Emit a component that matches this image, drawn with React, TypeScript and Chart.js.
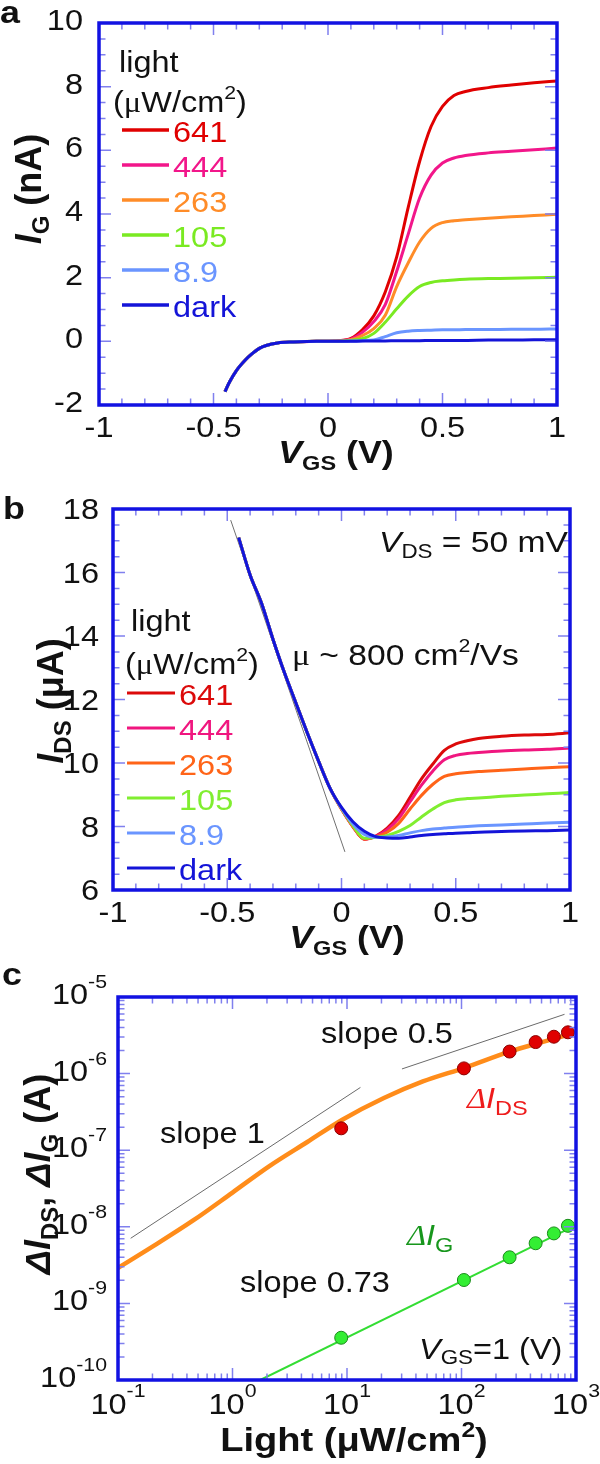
import React, { useEffect, useRef } from "react";
import { Chart, registerables } from "chart.js";

Chart.register(...registerables);

// ---------------- Panel a : I_G (nA) vs V_GS (V) ----------------
const vgsA = [-0.45, -0.43, -0.4, -0.36, -0.33, -0.3, -0.27, -0.22, -0.15, -0.05, 0.05, 0.1, 0.15, 0.2, 0.25, 0.3, 0.35, 0.4, 0.45, 0.5, 0.55, 0.6, 0.7, 0.8, 0.9, 1.0];
const igA641 = [-1.58, -1.28, -0.92, -0.58, -0.38, -0.22, -0.13, -0.05, -0.02, 0, 0.02, 0.09, 0.36, 0.8, 1.55, 2.65, 4.2, 5.65, 6.75, 7.38, 7.72, 7.85, 7.97, 8.05, 8.12, 8.18];
const igA444 = [-1.58, -1.28, -0.92, -0.58, -0.38, -0.22, -0.13, -0.05, -0.02, 0, 0.02, 0.07, 0.28, 0.62, 1.15, 2.2, 3.36, 4.5, 5.22, 5.6, 5.76, 5.84, 5.92, 5.97, 6.02, 6.07];
const igA263 = [-1.58, -1.28, -0.92, -0.58, -0.38, -0.22, -0.13, -0.05, -0.02, 0, 0.01, 0.05, 0.18, 0.4, 0.82, 1.72, 2.46, 3.12, 3.55, 3.73, 3.79, 3.82, 3.87, 3.91, 3.95, 3.99];
const igA105 = [-1.58, -1.28, -0.92, -0.58, -0.38, -0.22, -0.13, -0.05, -0.02, 0, 0, 0.03, 0.08, 0.25, 0.6, 1.02, 1.42, 1.72, 1.85, 1.9, 1.93, 1.95, 1.97, 1.98, 2.0, 2.01];
const igA89 = [-1.58, -1.28, -0.92, -0.58, -0.38, -0.22, -0.13, -0.05, -0.02, 0, 0, 0.01, 0.02, 0.04, 0.15, 0.27, 0.32, 0.34, 0.35, 0.36, 0.36, 0.37, 0.37, 0.38, 0.38, 0.39];
const igADark = [-1.58, -1.28, -0.92, -0.58, -0.38, -0.22, -0.13, -0.05, -0.02, 0, 0, 0, 0.01, 0.01, 0.01, 0.02, 0.02, 0.02, 0.03, 0.03, 0.03, 0.03, 0.04, 0.04, 0.05, 0.05];

// ---------------- Panel b : I_DS (uA) vs V_GS (V) ----------------
const vgsB = [-0.45, -0.4, -0.35, -0.3, -0.25, -0.2, -0.15, -0.1, -0.05, 0, 0.05, 0.1, 0.15, 0.2, 0.25, 0.3, 0.35, 0.4, 0.45, 0.5, 0.55, 0.6, 0.7, 0.8, 0.9, 1.0];
const idsB641 = [17.1, 15.92, 15.03, 13.9, 12.85, 11.9, 10.95, 10.05, 9.2, 8.55, 8.0, 7.6, 7.7, 7.95, 8.35, 8.92, 9.5, 9.97, 10.4, 10.6, 10.7, 10.77, 10.84, 10.88, 10.9, 10.95];
const idsB444 = [17.1, 15.92, 15.03, 13.9, 12.85, 11.9, 10.95, 10.05, 9.2, 8.55, 8.0, 7.6, 7.69, 7.9, 8.25, 8.78, 9.3, 9.75, 10.1, 10.24, 10.3, 10.33, 10.38, 10.41, 10.43, 10.47];
const idsB263 = [17.1, 15.92, 15.03, 13.9, 12.85, 11.9, 10.95, 10.05, 9.2, 8.55, 8.0, 7.6, 7.68, 7.82, 8.1, 8.55, 8.98, 9.33, 9.58, 9.66, 9.7, 9.73, 9.77, 9.81, 9.85, 9.88];
const idsB105 = [17.1, 15.92, 15.03, 13.9, 12.85, 11.9, 10.95, 10.05, 9.2, 8.57, 8.03, 7.63, 7.66, 7.72, 7.85, 8.03, 8.3, 8.55, 8.75, 8.84, 8.88, 8.9, 8.95, 8.99, 9.03, 9.07];
const idsB89 = [17.1, 15.92, 15.03, 13.9, 12.85, 11.9, 10.95, 10.05, 9.2, 8.58, 8.08, 7.75, 7.66, 7.67, 7.72, 7.8, 7.87, 7.92, 7.95, 7.98, 8.0, 8.02, 8.05, 8.08, 8.11, 8.13];
const idsBDark = [17.1, 15.92, 15.03, 13.9, 12.85, 11.9, 10.95, 10.05, 9.2, 8.6, 8.15, 7.85, 7.68, 7.64, 7.63, 7.67, 7.72, 7.75, 7.77, 7.79, 7.8, 7.82, 7.84, 7.86, 7.87, 7.89];
const mobilityFitV = [-0.485, 0.015];
const mobilityFitI = [17.65, 7.2];

// ---------------- Panel c : dI vs light ----------------
const lightLevels = [8.9, 105, 263, 444, 641, 850];
const deltaIds = [1.93e-7, 1.17e-6, 1.94e-6, 2.58e-6, 3.03e-6, 3.46e-6];
const deltaIg = [3.56e-10, 2.02e-9, 4.0e-9, 6.1e-9, 8.2e-9, 1.03e-8];
const fitLight = [0.1, 0.2, 0.45, 1.0, 2.1, 4.5, 9.1, 21, 46, 108, 263, 470, 850];
const fitIds = [2.9e-9, 5.5e-9, 1.2e-8, 2.8e-8, 6.2e-8, 1.28e-7, 2.5e-7, 4.8e-7, 7.9e-7, 1.2e-6, 1.93e-6, 2.5e-6, 3.2e-6];
const slope1Light = [0.129, 13.1];
const slope1I = [7.08e-9, 6.6e-7];
const slope05Light = [30.2, 794];
const slope05I = [1.15e-6, 5.94e-6];
const slope073Light = [1.75, 850];
const slope073I = [1e-10, 9.3e-9];

// ---------------- labels ----------------
const legendLabels = ["641", "444", "263", "105", "8.9", "dark"];
const xTickVals = [-1, -0.5, 0, 0.5, 1];
const xTickLabels = ["-1", "-0.5", "0", "0.5", "1"];
const yTickValsA = [-2, 0, 2, 4, 6, 8, 10];
const yTickLabelsA = ["-2", "0", "2", "4", "6", "8", "10"];
const yTickValsB = [6, 8, 10, 12, 14, 16, 18];
const yTickLabelsB = ["6", "8", "10", "12", "14", "16", "18"];
const decadesX = [-1, 0, 1, 2, 3];
const decadesY = [-10, -9, -8, -7, -6, -5];

// ---------------- styles ----------------
const W = 600;
const SX = 1.12;
const SANS = '"Liberation Sans", Arial, Helvetica, sans-serif';
const SERIF = '"Liberation Serif", "Times New Roman", serif';
const BORDER = "#1212e2";
const TICK = "#8080ee";
const colorsA = ["#e00000", "#f2168a", "#ff8c28", "#7aea22", "#6a95ff", "#1414d8"];
const colorsB = ["#dc0a0a", "#f0167f", "#ff6418", "#80ee30", "#6a95ff", "#1414d8"];

type Run = { t: string; size: number; bold?: boolean; italic?: boolean; serif?: boolean; dy?: number; color?: string };

function fontOf(r: Run) {
  return `${r.italic ? "italic " : ""}${r.bold ? "bold " : ""}${r.size}px ${r.serif ? SERIF : SANS}`;
}

function drawRich(ctx: CanvasRenderingContext2D, runs: Run[], x: number, y: number, align: "left" | "center" | "right", color: string, rotate = false) {
  ctx.save();
  ctx.translate(x, y);
  if (rotate) ctx.rotate(-Math.PI / 2);
  else ctx.scale(SX, 1);
  ctx.textBaseline = "alphabetic";
  ctx.textAlign = "left";
  let w = 0;
  for (const r of runs) {
    ctx.font = fontOf(r);
    w += ctx.measureText(r.t).width;
  }
  let cx = align === "center" ? -w / 2 : align === "right" ? -w : 0;
  for (const r of runs) {
    ctx.font = fontOf(r);
    ctx.fillStyle = r.color ?? color;
    ctx.fillText(r.t, cx, r.dy ?? 0);
    cx += ctx.measureText(r.t).width;
  }
  ctx.restore();
}

function drawFrame(chart: any, xt: { v: number; major: boolean }[], yt: { v: number; major: boolean }[]) {
  const { ctx, chartArea: a, scales } = chart;
  ctx.save();
  ctx.strokeStyle = TICK;
  ctx.lineWidth = 1.5;
  ctx.beginPath();
  for (const t of xt) {
    const p = scales.x.getPixelForValue(t.v);
    const L = t.major ? 12 : 6.5;
    ctx.moveTo(p, a.bottom);
    ctx.lineTo(p, a.bottom - L);
    ctx.moveTo(p, a.top);
    ctx.lineTo(p, a.top + L);
  }
  for (const t of yt) {
    const p = scales.y.getPixelForValue(t.v);
    const L = t.major ? 12 : 6.5;
    ctx.moveTo(a.left, p);
    ctx.lineTo(a.left + L, p);
    ctx.moveTo(a.right, p);
    ctx.lineTo(a.right - L, p);
  }
  ctx.stroke();
  ctx.strokeStyle = BORDER;
  ctx.lineWidth = 3.5;
  ctx.strokeRect(a.left, a.top, a.right - a.left, a.bottom - a.top);
  ctx.restore();
}

function linTicks(min: number, max: number, step: number, majors: number[]) {
  const out: { v: number; major: boolean }[] = [];
  const n = Math.round((max - min) / step);
  for (let i = 1; i < n; i++) {
    const v = +(min + i * step).toFixed(6);
    out.push({ v, major: majors.some((m) => Math.abs(m - v) < 1e-9) });
  }
  return out;
}

function logTicks(d0: number, d1: number) {
  const out: { v: number; major: boolean }[] = [];
  for (let d = d0; d < d1; d++) {
    if (d > d0) out.push({ v: Math.pow(10, d), major: true });
    for (let m = 2; m <= 9; m++) out.push({ v: m * Math.pow(10, d), major: false });
  }
  return out;
}

function drawLegend(ctx: CanvasRenderingContext2D, colors: string[], lx0: number, lx1: number, tx: number, lightX: number, lightY: number, unitX: number, unitY: number, firstY: number, lw: number) {
  drawRich(ctx, [{ t: "light", size: 29 }], lightX, lightY, "left", "#111");
  drawRich(ctx, [{ t: "(", size: 29 }, { t: "μ", size: 29, serif: true }, { t: "W/cm", size: 29 }, { t: "2", size: 19, dy: -13 }, { t: ")", size: 29 }], unitX, unitY, "left", "#111");
  legendLabels.forEach((lab, i) => {
    const by = firstY + 35 * i;
    ctx.save();
    ctx.strokeStyle = colors[i];
    ctx.lineWidth = lw;
    ctx.beginPath();
    ctx.moveTo(lx0, by - 12);
    ctx.lineTo(lx1, by - 12);
    ctx.stroke();
    ctx.restore();
    drawRich(ctx, [{ t: lab, size: 29 }], tx, by, "left", colors[i]);
  });
}

const pts = (xs: number[], ys: number[]) => xs.map((x, i) => ({ x, y: ys[i] }));

function lineDs(xs: number[], ys: number[], color: string, width: number, order: number) {
  return {
    data: pts(xs, ys),
    showLine: true,
    borderColor: color,
    backgroundColor: color,
    borderWidth: width,
    pointRadius: 0,
    cubicInterpolationMode: "monotone",
    order,
  };
}

const baseOptions = (padding: any, x: any, y: any) => ({
  animation: false,
  responsive: false,
  maintainAspectRatio: false,
  events: [],
  layout: { padding },
  plugins: { legend: { display: false }, tooltip: { enabled: false }, title: { display: false } },
  scales: { x: { ...x, display: false }, y: { ...y, display: false } },
});

// ---------------- panel a (canvas 0..488) ----------------
function makeA(canvas: HTMLCanvasElement) {
  const series = [igA641, igA444, igA263, igA105, igA89, igADark];
  const plugin = {
    id: "panelA",
    afterDraw(chart: any) {
      const { ctx, chartArea: a, scales } = chart;
      drawFrame(chart, linTicks(-1, 1, 0.1, [-0.5, 0, 0.5]), linTicks(-2, 10, 0.5, [0, 2, 4, 6, 8]));
      yTickValsA.forEach((v, i) => drawRich(ctx, [{ t: yTickLabelsA[i], size: 29 }], 83, scales.y.getPixelForValue(v) + 7, "right", "#111"));
      xTickVals.forEach((v, i) => drawRich(ctx, [{ t: xTickLabels[i], size: 29 }], scales.x.getPixelForValue(v), a.bottom + 32, "center", "#111"));
      drawRich(ctx, [{ t: "I", size: 36, bold: true, italic: true }, { t: "G", size: 24, bold: true, dy: 8 }, { t: " (nA)", size: 36, bold: true }], 41, 189, "center", "#111", true);
      drawRich(ctx, [{ t: "V", size: 32, bold: true, italic: true }, { t: "GS", size: 21, bold: true, dy: 7 }, { t: " (V)", size: 32, bold: true }], 336, 463, "center", "#111");
      drawRich(ctx, [{ t: "a", size: 32, bold: true }], 0, 23, "left", "#111");
      drawLegend(ctx, colorsA, 122, 169, 173, 119, 72, 113, 112, 142, 3.5);
    },
  };
  return new Chart(canvas, {
    type: "scatter",
    data: { datasets: series.map((s, i) => lineDs(vgsA, s, colorsA[i], 3, 5 - i)) as any },
    options: baseOptions({ left: 99, top: 23, right: 43, bottom: 83 }, { type: "linear", min: -1, max: 1 }, { type: "linear", min: -2, max: 10 }) as any,
    plugins: [plugin],
  });
}

// ---------------- panel b (canvas 488..960) ----------------
function makeB(canvas: HTMLCanvasElement) {
  const series = [idsB641, idsB444, idsB263, idsB105, idsB89, idsBDark];
  const plugin = {
    id: "panelB",
    afterDraw(chart: any) {
      const { ctx, chartArea: a, scales } = chart;
      drawFrame(chart, linTicks(-1, 1, 0.1, [-0.5, 0, 0.5]), linTicks(6, 18, 0.5, [8, 10, 12, 14, 16]));
      yTickValsB.forEach((v, i) => drawRich(ctx, [{ t: yTickLabelsB[i], size: 29 }], 99, scales.y.getPixelForValue(v) + 10, "right", "#111"));
      xTickVals.forEach((v, i) => drawRich(ctx, [{ t: xTickLabels[i], size: 29 }], scales.x.getPixelForValue(v), a.bottom + 32, "center", "#111"));
      drawRich(ctx, [{ t: "I", size: 36, bold: true, italic: true }, { t: "DS", size: 24, bold: true, dy: 8 }, { t: " (μA)", size: 36, bold: true }], 63, 213, "center", "#111", true);
      drawRich(ctx, [{ t: "V", size: 32, bold: true, italic: true }, { t: "GS", size: 21, bold: true, dy: 7 }, { t: " (V)", size: 32, bold: true }], 347, 460, "center", "#111");
      drawRich(ctx, [{ t: "b", size: 32, bold: true }], 3, 31, "left", "#111");
      drawRich(ctx, [{ t: "V", size: 30, italic: true }, { t: "DS", size: 20, dy: 6 }, { t: " = 50 mV", size: 30 }], 379, 64, "left", "#111");
      drawRich(ctx, [{ t: "μ", size: 30, serif: true }, { t: " ~ 800 cm", size: 30 }, { t: "2", size: 19, dy: -13 }, { t: "/Vs", size: 30 }], 292, 177, "left", "#111");
      drawLegend(ctx, colorsB, 127, 175, 179, 131, 143, 125, 186, 217, 3);
    },
  };
  const datasets: any[] = series.map((s, i) => lineDs(vgsB, s, colorsB[i], 3, 5 - i));
  datasets.push(lineDs(mobilityFitV, mobilityFitI, "#707070", 1, 6));
  return new Chart(canvas, {
    type: "scatter",
    data: { datasets },
    options: baseOptions({ left: 113, top: 21, right: 30, bottom: 70 }, { type: "linear", min: -1, max: 1 }, { type: "linear", min: 6, max: 18 }) as any,
    plugins: [plugin],
  });
}

// ---------------- panel c (canvas 960..1464) ----------------
function makeC(canvas: HTMLCanvasElement) {
  const plugin = {
    id: "panelC",
    afterDraw(chart: any) {
      const { ctx, chartArea: a, scales } = chart;
      drawFrame(chart, logTicks(-1, 3), logTicks(-10, -5));
      decadesY.forEach((d) => drawRich(ctx, [{ t: "10", size: 29 }, { t: String(d), size: 19, dy: -16 }], 107, scales.y.getPixelForValue(Math.pow(10, d)) + 7, "right", "#111"));
      decadesX.forEach((d) => drawRich(ctx, [{ t: "10", size: 29 }, { t: String(d), size: 19, dy: -17 }], scales.x.getPixelForValue(Math.pow(10, d)), a.bottom + 34, "center", "#111"));
      drawRich(ctx, [{ t: "Δ", size: 36, bold: true, italic: true }, { t: "I", size: 36, bold: true, italic: true }, { t: "DS", size: 24, bold: true, dy: 8 }, { t: ", ", size: 36, bold: true }, { t: "Δ", size: 36, bold: true, italic: true }, { t: "I", size: 36, bold: true, italic: true }, { t: "G", size: 24, bold: true, dy: 8 }, { t: " (A)", size: 36, bold: true }], 50, 214, "center", "#111", true);
      drawRich(ctx, [{ t: "Light (μW/cm", size: 34, bold: true }, { t: "2", size: 22, bold: true, dy: -14 }, { t: ")", size: 34, bold: true }], 354, 491, "center", "#111");
      drawRich(ctx, [{ t: "c", size: 32, bold: true }], 2, 25, "left", "#111");
      drawRich(ctx, [{ t: "slope 0.5", size: 29 }], 321, 83, "left", "#111");
      drawRich(ctx, [{ t: "slope 1", size: 29 }], 160, 183, "left", "#111");
      drawRich(ctx, [{ t: "slope 0.73", size: 29 }], 240, 332, "left", "#111");
      drawRich(ctx, [{ t: "Δ", size: 29, italic: true, serif: true }, { t: "I", size: 29, italic: true }, { t: "DS", size: 21, dy: 7 }], 467, 148, "left", "#ee1c1c");
      drawRich(ctx, [{ t: "Δ", size: 29, italic: true, serif: true }, { t: "I", size: 29, italic: true }, { t: "G", size: 21, dy: 7 }], 407, 285, "left", "#17961c");
      drawRich(ctx, [{ t: "V", size: 29, italic: true }, { t: "GS", size: 20, dy: 5 }, { t: "=1 (V)", size: 29 }], 419, 399, "left", "#111");
    },
  };
  const datasets: any[] = [
    { data: pts(lightLevels, deltaIds), showLine: false, pointRadius: 6.5, pointBackgroundColor: "#e00000", pointBorderColor: "#8a0000", pointBorderWidth: 1, order: 0 },
    { data: pts(lightLevels, deltaIg), showLine: false, pointRadius: 6.5, pointBackgroundColor: "#33ee33", pointBorderColor: "#1a8a1a", pointBorderWidth: 1, order: 1 },
    { ...lineDs(fitLight, fitIds, "#ff8c1a", 4.5, 2) },
    { ...lineDs(slope073Light, slope073I, "#33dd33", 2, 3), cubicInterpolationMode: "default", tension: 0 },
    { ...lineDs(slope1Light, slope1I, "#6a6a6a", 1, 4), cubicInterpolationMode: "default", tension: 0 },
    { ...lineDs(slope05Light, slope05I, "#6a6a6a", 1, 5), cubicInterpolationMode: "default", tension: 0 },
  ];
  return new Chart(canvas, {
    type: "scatter",
    data: { datasets },
    options: baseOptions({ left: 118, top: 37, right: 24, bottom: 84 }, { type: "logarithmic", min: 0.1, max: 1000 }, { type: "logarithmic", min: 1e-10, max: 1e-5 }) as any,
    plugins: [plugin],
  });
}

function ChartCanvas({ top, height, make }: { top: number; height: number; make: (c: HTMLCanvasElement) => Chart }) {
  const ref = useRef<HTMLCanvasElement>(null);
  useEffect(() => {
    const chart = make(ref.current!);
    return () => chart.destroy();
  }, [make]);
  return <canvas ref={ref} width={W} height={height} style={{ position: "absolute", left: 0, top, width: W, height, display: "block" }} />;
}

export default function App() {
  return (
    <div style={{ position: "absolute", left: 0, top: 0, width: 600, height: 1464, background: "#fff", overflow: "hidden" }}>
      <ChartCanvas top={0} height={488} make={makeA} />
      <ChartCanvas top={488} height={472} make={makeB} />
      <ChartCanvas top={960} height={504} make={makeC} />
    </div>
  );
}
